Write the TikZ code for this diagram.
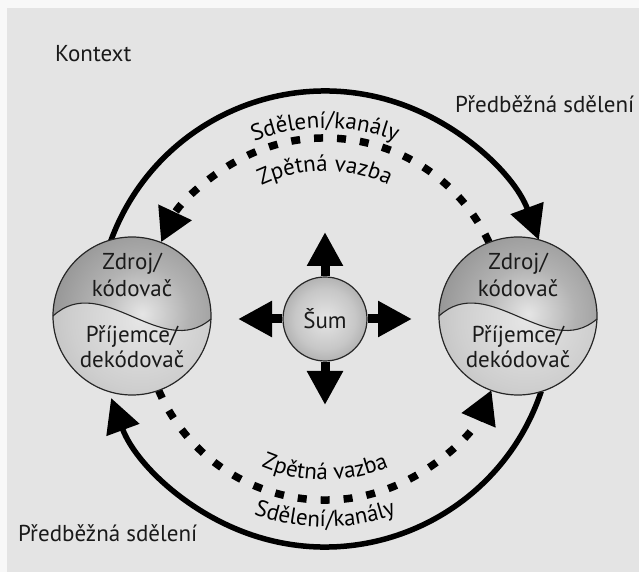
\documentclass[tikz,border=0pt]{standalone}
\usepackage{fontspec}
\setmainfont{PT Sans}
\usetikzlibrary{arrows.meta,decorations.text}
\definecolor{bgc}{HTML}{E4E4E4}
\definecolor{pagec}{HTML}{F8F8F8}
\definecolor{inkc}{HTML}{1A1A1A}
\pgfdeclareradialshading{sphtop}{\pgfpoint{0bp}{0bp}}{color(0bp)=(black!10); color(12bp)=(black!30); color(34bp)=(black!52); color(50bp)=(black!66)}
\pgfdeclareradialshading{sphbot}{\pgfpoint{0bp}{0bp}}{color(0bp)=(black!10); color(18bp)=(black!19); color(36bp)=(black!31); color(50bp)=(black!52)}
\pgfdeclareradialshading{sumsh}{\pgfpoint{0bp}{0bp}}{color(0bp)=(black!10); color(18bp)=(black!22); color(50bp)=(black!58)}
\newcommand\arctext{\fontsize{23}{23}\selectfont}
\begin{document}
\begin{tikzpicture}[x=1pt,y=1pt,
  txt/.style={font=\fontsize{23}{26}\selectfont, text=inkc, inner sep=0pt},
  solidarr/.style={line width=5.5pt, -{Triangle[length=34pt,width=34pt]}},
  dasharr/.style={line width=7.5pt, dash pattern=on 9pt off 14pt, -{Triangle[length=33pt,width=35pt]}},
  noisearr/.style={line width=9pt, -{Triangle[length=34pt,width=34pt]}},
  ring/.style={circle, draw=black!85, line width=1.2pt, minimum size=158pt, inner sep=0pt},
  arclabel/.style={decorate, decoration={text along path, text align=center, text={|\arctext|#1}}}
]
\useasboundingbox (-325,-253) rectangle (314,319);
\fill[pagec] (-325,-253) rectangle (314,319);
\fill[bgc] (-318,-253) rectangle (314,311);

% connector end points on the two rings
\coordinate (s1) at (160.3:228);
\coordinate (s3) at (-18.5:228);
\coordinate (d1) at (25.1:181);
\coordinate (d3) at (203.1:181);

\draw[solidarr] (s1) arc[start angle=160.3, end angle=20.3, radius=228];
\draw[solidarr] (s3) arc[start angle=-18.5, end angle=-159.7, radius=228];
\draw[dasharr] (d1) arc[start angle=25.1, end angle=154.9, radius=181];
\draw[dasharr] (d3) arc[start angle=203.1, end angle=336.9, radius=181];

% spheres
\foreach \cx/\nm in {-193/src, 193/dst}{
  \begin{scope}[shift={(\cx,3)}]
    \begin{scope}
      \clip (-79,0) .. controls (-30,45) and (30,-45) .. (78.94,-3) arc[start angle=-2.18, end angle=180, radius=79] -- cycle;
      \shade[shading=sphtop] (10,2) circle (98);
    \end{scope}
    \begin{scope}
      \clip (-79,0) .. controls (-30,45) and (30,-45) .. (78.94,-3) arc[start angle=-2.18, end angle=-180, radius=79] -- cycle;
      \shade[shading=sphbot] (8,-4) circle (95);
    \end{scope}
    \draw[line width=1.1pt, black!85] (-79,0) .. controls (-30,45) and (30,-45) .. (78.94,-3);
  \end{scope}
  \node[ring] (\nm) at (\cx,3) {};
  \node[txt, anchor=base] (\nm-a) at (\cx,49) {Zdroj/};
  \node[txt, anchor=base] (\nm-b) at (\cx,22) {kódovač};
  \node[txt, anchor=base] (\nm-c) at (\cx,-24) {Příjemce/};
  \node[txt, anchor=base] (\nm-d) at (\cx,-49) {dekódovač};
}

% noise
\node[circle, draw=black!85, line width=1.2pt, minimum size=84pt, inner sep=0pt, shade, shading=sumsh, txt] (sum) at (0,0) {Šum};
\coordinate (nu) at (0,87);
\coordinate (nd) at (0,-86);
\coordinate (nl) at (-87,0);
\coordinate (nr) at (87,0);
\draw[noisearr] (sum.north) -- (nu);
\draw[noisearr] (sum.south) -- (nd);
\draw[noisearr] (sum.west) -- (nl);
\draw[noisearr] (sum.east) -- (nr);

% labels
\node[txt, anchor=base west] (ctx) at (-270,257) {Kontext};
\node[txt, anchor=base west] (pre1) at (130,206) {Předběžná sdělení};
\node[txt, anchor=base west] (pre2) at (-307,-222) {Předběžná sdělení};

\path[arclabel={Sdělení/kanály}] (150:191) arc[start angle=150, end angle=30, radius=191];
\path[arclabel={Zpětná vazba}] (150:148) arc[start angle=150, end angle=30, radius=148];
\path[arclabel={Zpětná vazba}] (210:161) arc[start angle=210, end angle=330, radius=161];
\path[arclabel={Sdělení/kanály}] (210:208) arc[start angle=210, end angle=330, radius=208];
\end{tikzpicture}
\end{document}
